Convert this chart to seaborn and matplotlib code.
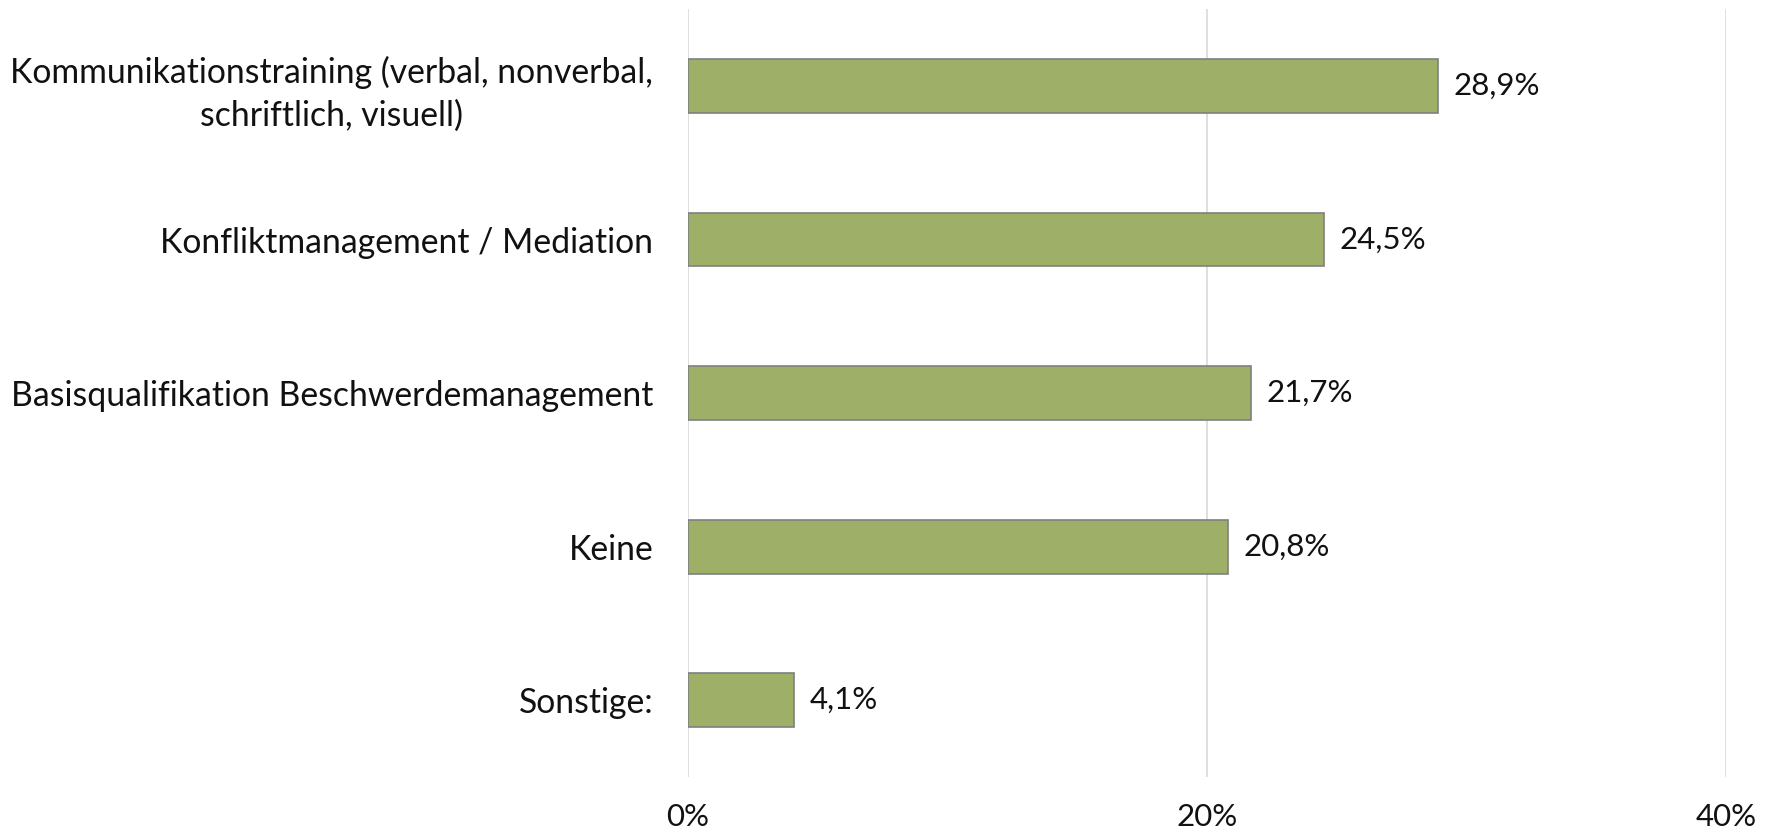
import matplotlib
matplotlib.use("Agg")
import matplotlib.pyplot as plt
import seaborn as sns
import pandas as pd

categories = [
    "Kommunikationstraining (verbal, nonverbal,\nschriftlich, visuell)",
    "Konfliktmanagement / Mediation",
    "Basisqualifikation Beschwerdemanagement",
    "Keine",
    "Sonstige:",
]
values = [28.9, 24.5, 21.7, 20.8, 4.1]
value_labels = ["28,9%", "24,5%", "21,7%", "20,8%", "4,1%"]
xticks = [0, 20, 40]
xtick_labels = ["0%", "20%", "40%"]

sns.set_theme(style="white")
plt.rcParams["font.family"] = ["Lato", "DejaVu Sans"]

df = pd.DataFrame({"cat": categories, "val": values})

fig = plt.figure(figsize=(17.71, 8.4), dpi=100)
ax = fig.add_axes([0.3885, 0.075, 0.5861, 0.914])

sns.barplot(data=df, y="cat", x="val", orient="h", color="#9EB068",
            saturation=1, width=0.35, edgecolor="#7F7F7F", linewidth=1.2, ax=ax)

for patch, lab in zip(ax.patches, value_labels):
    w = patch.get_width()
    y = patch.get_y() + patch.get_height() / 2
    ax.annotate(lab, (w, y), xytext=(11, 0), textcoords="offset points",
                va="center", ha="left", fontsize=22.5, color="#111111")

ax.set_xlim(0, 40)
ax.set_ylim(4.5, -0.5)
ax.set_xticks(xticks)
ax.set_xticklabels(xtick_labels, fontsize=22.5, color="#111111")
ax.tick_params(axis="x", length=0, pad=19)
ax.tick_params(axis="y", length=0, pad=25, labelsize=24.3, labelcolor="#111111")
for t in ax.get_yticklabels():
    t.set_multialignment("center")
    t.set_linespacing(1.4)
ax.set_xlabel("")
ax.set_ylabel("")
ax.grid(axis="x", color="#D9D9D9", linewidth=1.2)
ax.set_axisbelow(True)
for s in ax.spines.values():
    s.set_visible(False)

fig.savefig("out.png", dpi=100, facecolor="white")
